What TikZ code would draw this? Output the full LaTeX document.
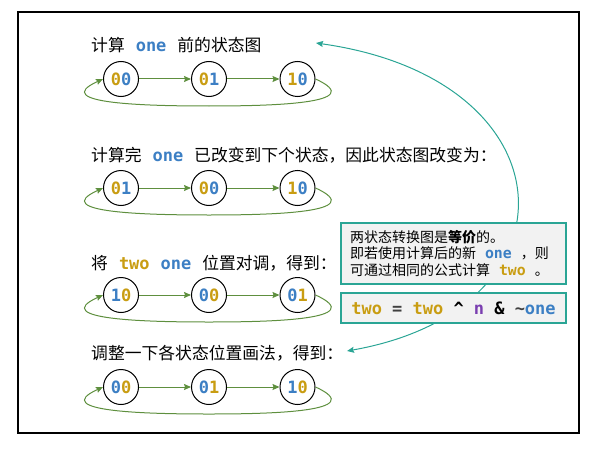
\documentclass[tikz,border=0pt]{standalone}
\usepackage{fontspec}
\setmainfont{Noto Sans CJK SC}
\setmonofont{DejaVu Sans Mono}[Scale=1.06]
\definecolor{oneblue}{HTML}{3C7FC4}
\definecolor{twogold}{HTML}{C99D12}
\definecolor{npurple}{HTML}{7A3EB0}
\definecolor{flowgreen}{HTML}{5E8F3E}
\definecolor{noteteal}{HTML}{2AA595}
\definecolor{notefill}{HTML}{F2F2F2}
\usetikzlibrary{arrows.meta, calc}
\newcommand{\kw}[2]{\textcolor{#1}{\fontsize{16}{16}\ttfamily\bfseries #2}}
\newcommand{\gap}{\hspace{11pt}}
\newcommand{\stTO}[2]{\textcolor{twogold}{#1}\textcolor{oneblue}{#2}}
\newcommand{\stOT}[2]{\textcolor{oneblue}{#1}\textcolor{twogold}{#2}}

\begin{document}
\begin{tikzpicture}[x=1pt, y=1pt,
  st/.style={circle, draw, line width=1pt, fill=white, minimum size=35pt,
             inner sep=0pt, font=\fontsize{16}{16}\ttfamily\bfseries},
  title/.style={anchor=west, inner sep=0pt, font=\fontsize{16.8}{19}\selectfont},
  flow/.style={-{Stealth[length=7pt, width=6pt, inset=1pt]}, flowgreen, line width=1pt},
  link/.style={{Stealth[length=7pt, width=6pt, inset=1pt]}-{Stealth[length=7pt, width=6pt, inset=1pt]},
               noteteal, line width=1pt},
  note/.style={draw=noteteal, line width=1.2pt, fill=notefill, inner sep=0pt,
               minimum width=225pt}
]
  \useasboundingbox (0,0) rectangle (593,448);
  \draw[line width=1.5pt] (18,15) rectangle (579,436);

  % Before
  \node[title] (t1) at (91,403) {计算\gap{}\kw{oneblue}{one}\gap{}前的状态图};
  \node[st] (a1) at (121,369) {\stTO{0}{0}};
  \node[st] (a2) at (209,369) {\stTO{0}{1}};
  \node[st] (a3) at (297.5,369) {\stTO{1}{0}};

  % After one
  \node[title] (t2) at (91,293) {计算完\gap{}\kw{oneblue}{one}\gap{}已改变到下个状态，因此状态图改变为：};
  \node[st] (b1) at (121,260) {\stTO{0}{1}};
  \node[st] (b2) at (209,260) {\stTO{0}{0}};
  \node[st] (b3) at (297.5,260) {\stTO{1}{0}};

  % Swapped
  \node[title] (t3) at (91,185) {将\gap{}\kw{twogold}{two}\gap{}\kw{oneblue}{one}\gap{}位置对调，得到：};
  \node[st] (c1) at (121,153) {\stOT{1}{0}};
  \node[st] (c2) at (209,153) {\stOT{0}{0}};
  \node[st] (c3) at (297.5,153) {\stOT{0}{1}};

  % Reordered
  \node[title] (t4) at (91,95) {调整一下各状态位置画法，得到：};
  \node[st] (d1) at (121,61) {\stOT{0}{0}};
  \node[st] (d2) at (209,61) {\stOT{0}{1}};
  \node[st] (d3) at (297.5,61) {\stOT{1}{0}};

  % Transitions
  \foreach \r in {a,b,c,d} {
    \draw[flow] (\r1) -- (\r2);
    \draw[flow] (\r2) -- (\r3);
    \draw[flow] (\r3.east) .. controls +(55,-25) and +(60,0) .. ($(\r2)+(0,-27)$)
      .. controls +(-60,0) and +(-55,-25) .. (\r1.west);
  }

  % Note and formula
  \coordinate (p1) at (316,405);
  \coordinate (p4) at (347,97);
  \draw[link] (p4) .. controls +(10:240) and +(-8:260) .. (p1);

  \node[note, minimum height=61pt, align=left, text width=207pt,
        font=\fontsize{14}{16.7}\selectfont] (eq) at (453.5,194.5)
    {两状态转换图是{\bfseries 等价}的。\\
     即若使用计算后的新\hspace{9pt}\textcolor{oneblue}{\ttfamily\bfseries one}\hspace{9pt}，则\\
     可通过相同的公式计算\hspace{9pt}\textcolor{twogold}{\ttfamily\bfseries two}\hspace{9pt}。};
  \node[note, minimum height=30pt, font=\fontsize{16}{16}\ttfamily\bfseries] (fm) at (453.5,140)
    {\kw{twogold}{two} {\color{darkgray}=} \kw{twogold}{two} \textasciicircum{} \kw{npurple}{n} \& {\color{darkgray}\textasciitilde}\kw{oneblue}{one}};
\end{tikzpicture}
\end{document}
